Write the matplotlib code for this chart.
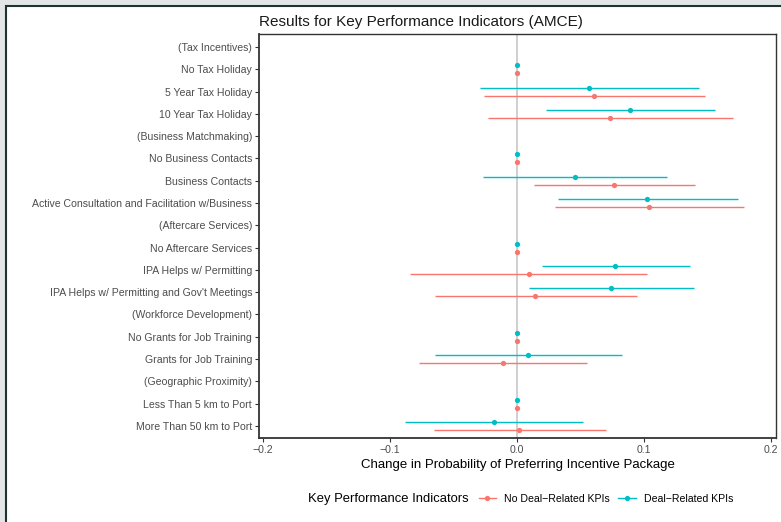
import numpy as np
import matplotlib.pyplot as plt
from matplotlib.lines import Line2D
from matplotlib.patches import Rectangle

plt.rcParams['font.family'] = ['Liberation Sans', 'DejaVu Sans']

# attribute levels, top to bottom
labels = ["(Tax Incentives)", "No Tax Holiday", "5 Year Tax Holiday", "10 Year Tax Holiday",
          "(Business Matchmaking)", "No Business Contacts", "Business Contacts",
          "Active Consultation and Facilitation w/Business",
          "(Aftercare Services)", "No Aftercare Services", "IPA Helps w/ Permitting",
          "IPA Helps w/ Permitting and Gov't Meetings",
          "(Workforce Development)", "No Grants for Job Training", "Grants for Job Training",
          "(Geographic Proximity)", "Less Than 5 km to Port", "More Than 50 km to Port"]

nan = np.nan
# No deal-related KPIs
est_no = [nan, 0, 0.0605, 0.0729, nan, 0, 0.0768, 0.1043, nan, 0, 0.0092, 0.0144,
          nan, 0, -0.0113, nan, 0, 0.0018]
lo_no = [nan, 0, -0.026, -0.0228, nan, 0, 0.0134, 0.0301, nan, 0, -0.0839, -0.0645,
         nan, 0, -0.0768, nan, 0, -0.0653]
hi_no = [nan, 0, 0.148, 0.170, nan, 0, 0.140, 0.179, nan, 0, 0.1027, 0.0943,
         nan, 0, 0.0548, nan, 0, 0.0705]

# Deal-related KPIs
est_deal = [nan, 0, 0.0566, 0.0888, nan, 0, 0.0456, 0.1027, nan, 0, 0.0776, 0.0742,
            nan, 0, 0.0086, nan, 0, -0.0183]
lo_deal = [nan, 0, -0.029, 0.0228, nan, 0, -0.0267, 0.032, nan, 0, 0.0197, 0.0097,
           nan, 0, -0.0645, nan, 0, -0.088]
hi_deal = [nan, 0, 0.143, 0.156, nan, 0, 0.118, 0.1743, nan, 0, 0.136, 0.1397,
           nan, 0, 0.0828, nan, 0, 0.0519]

red = "#F8766D"
cyan = "#00BFC4"

fig = plt.figure(figsize=(7.81, 5.22), dpi=100)
fig.patch.set_facecolor("#e2e6e6")
# white sheet behind everything, edged on the top and left
fig.patches.append(Rectangle((6 / 781, -0.05), 1.1, 1 - 6 / 522 + 0.05,
                             transform=fig.transFigure, facecolor="white",
                             edgecolor="#1e3232", linewidth=1.5, zorder=-5))

ax = fig.add_axes([259 / 781, 1 - 438 / 522, 517 / 781, 404 / 522])
ax.set_zorder(2)
n = len(labels)
y = np.arange(n)[::-1]
off = 0.18

ax.axvline(0, color="#cfcfcf", lw=1.4, zorder=1)

for est, lo, hi, col, d in [(est_no, lo_no, hi_no, red, -off),
                            (est_deal, lo_deal, hi_deal, cyan, off)]:
    est, lo, hi = np.array(est), np.array(lo), np.array(hi)
    ax.hlines(y + d, lo, hi, color=col, lw=1.0, zorder=2)
    ax.plot(est, y + d, 'o', color=col, ms=3.8, mec='none', zorder=3)

ax.set_yticks(y)
ax.set_yticklabels(labels, fontsize=7.6, color="#4d4d4d")
ax.set_ylim(-0.54, n - 1 + 0.58)
ax.set_xlim(-0.2031, 0.204)
ax.set_xticks([-0.2, -0.1, 0.0, 0.1, 0.2])
ax.set_xticklabels(["\u22120.2", "\u22120.1", "0.0", "0.1", "0.2"], fontsize=7.6, color="#4d4d4d")
ax.tick_params(length=3, width=0.8, color="#333333", pad=2)
for s in ax.spines.values():
    s.set_color("#333333")
    s.set_linewidth(1.0)
ax.spines['left'].set_linewidth(1.3)
ax.spines['bottom'].set_linewidth(1.3)

ax.set_xlabel("Change in Probability of Preferring Incentive Package", fontsize=9.5, labelpad=3)
ax.set_title("Results for Key Performance Indicators (AMCE)", fontsize=11, loc='left', pad=6,
             color="#1a1a1a")

# legend along the bottom
fig.text(308 / 781, 1 - 499 / 522, "Key Performance Indicators", fontsize=9.4, va='center')
handles = [Line2D([], [], color=red, lw=1.0, marker='o', ms=3.8, mec='none'),
           Line2D([], [], color=cyan, lw=1.0, marker='o', ms=3.8, mec='none')]
fig.legend(handles, ["No Deal\u2212Related KPIs", "Deal\u2212Related KPIs"],
           ncol=2, frameon=False, fontsize=7.6, handlelength=1.7, handletextpad=0.75,
           columnspacing=0.75, loc='center left', bbox_to_anchor=(469 / 781, 1 - 499 / 522))

fig.savefig("out.png", dpi=100)
